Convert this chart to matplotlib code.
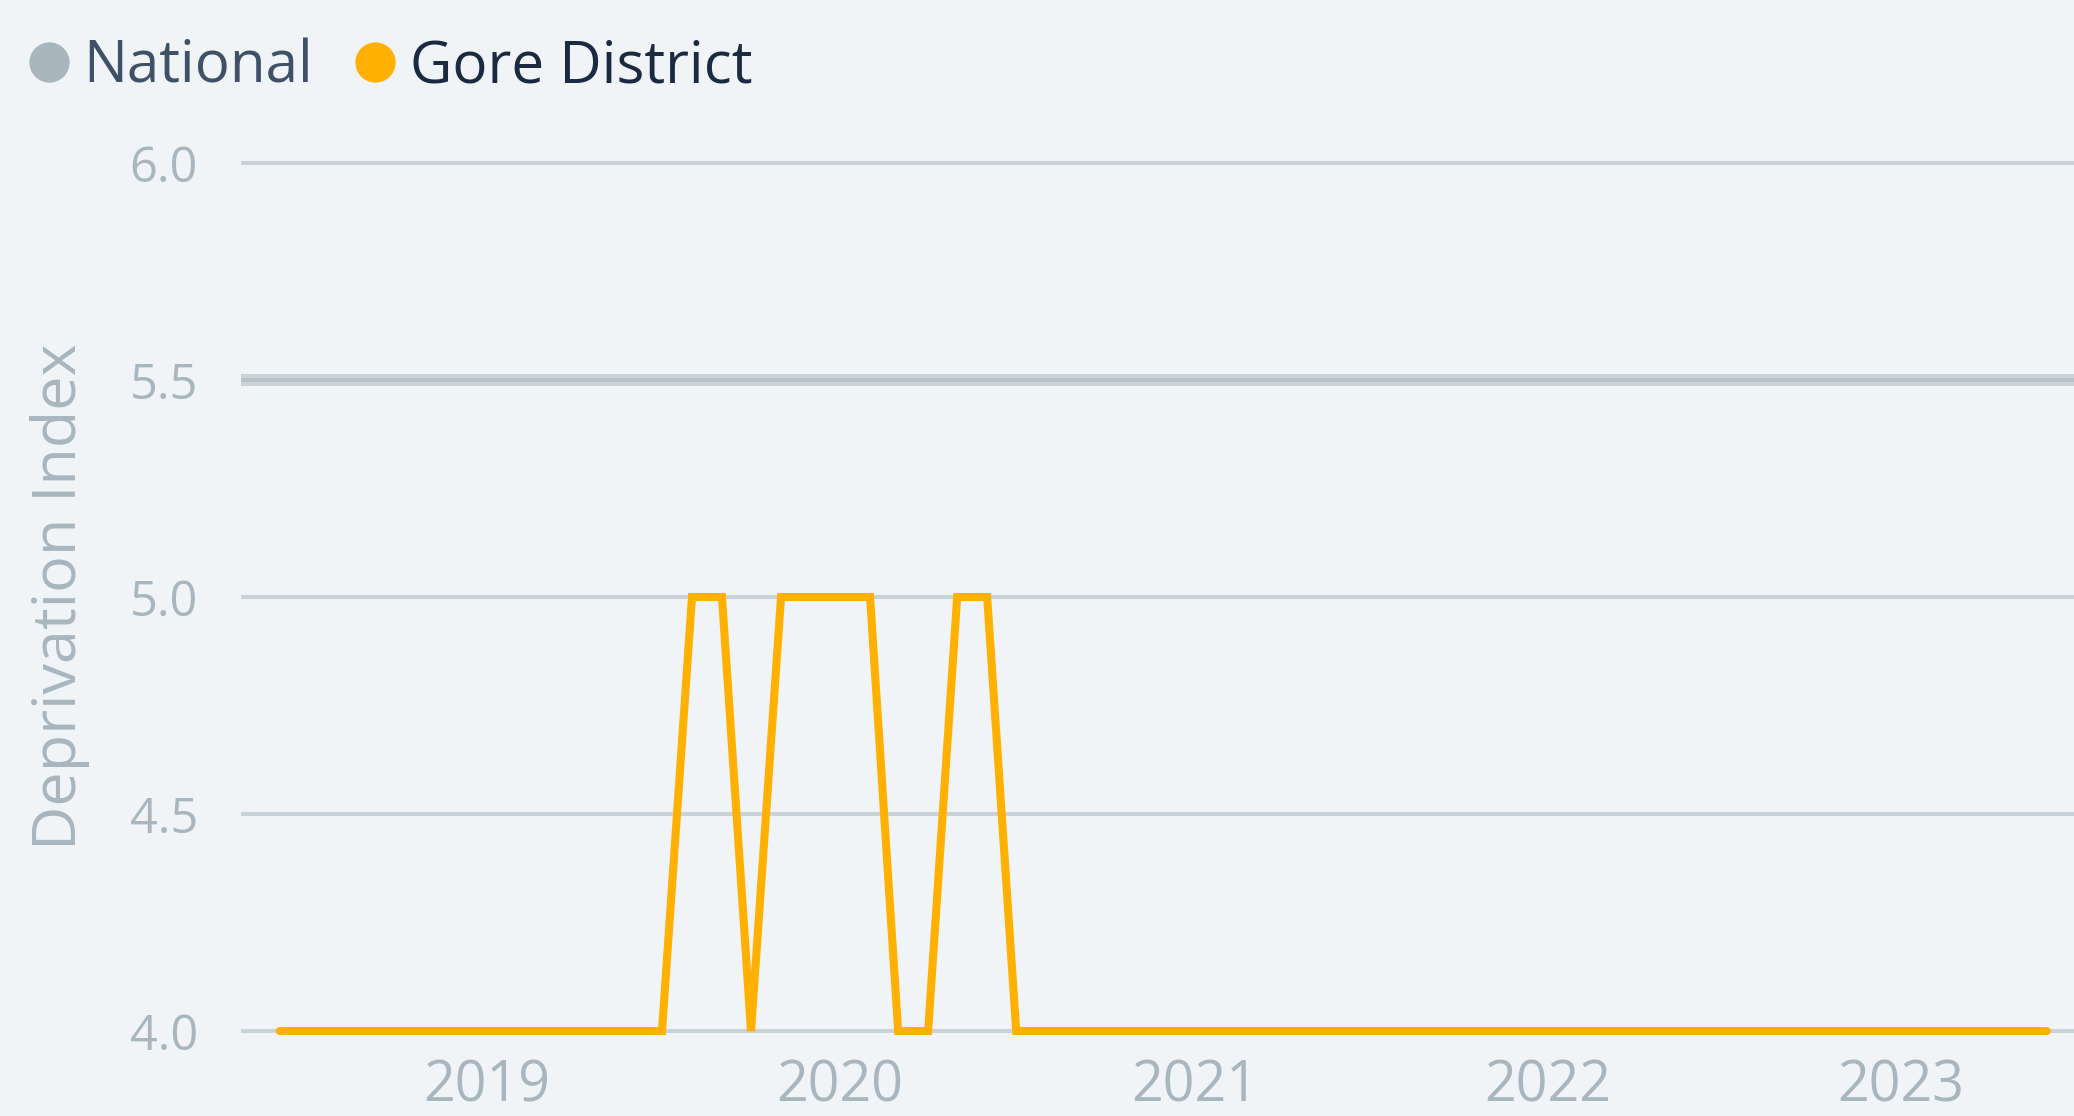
import matplotlib
matplotlib.use("Agg")
import matplotlib.pyplot as plt
import matplotlib.dates as mdates
from matplotlib.lines import Line2D
import pandas as pd

# monthly series, Jun 2018 .. Jun 2023
START_MONTH = "2018-06-01"
GORE = [4, 4, 4, 4, 4, 4, 4, 4, 4, 4, 4, 4, 4, 4,
        5, 5, 4, 5, 5, 5, 5, 4, 4, 5, 5,
        4, 4, 4, 4, 4, 4, 4, 4, 4, 4, 4, 4, 4, 4, 4, 4, 4, 4, 4, 4,
        4, 4, 4, 4, 4, 4, 4, 4, 4, 4, 4, 4, 4, 4, 4, 4]
NATIONAL = 5.5
SERIES_NAMES = ["National", "Gore District"]
Y_TICKS = [4.0, 4.5, 5.0, 5.5, 6.0]
Y_LABEL = "Deprivation Index"

BG = "#f0f4f7"
GRID = "#c9d2d7"
MUTED = "#a9b6bd"
ORANGE = "#ffb000"

plt.rcParams["font.family"] = ["Open Sans", "DejaVu Sans"]

dates = pd.date_range(START_MONTH, periods=len(GORE), freq="MS")

fig = plt.figure(figsize=(20.74, 11.16), dpi=100, facecolor=BG)
ax = fig.add_axes([0.1162, 0.0742, 0.8838, 0.7817])
ax.set_facecolor(BG)

# national reference level spans the whole plot width
ax.axhline(NATIONAL, color=MUTED, alpha=0.52, linewidth=8.6, zorder=3)
ax.plot(dates, GORE, color=ORANGE, linewidth=5.8, zorder=4, clip_on=False,
        solid_capstyle="round", solid_joinstyle="miter")

ax.set_ylim(3.995, 6.005)
ax.set_xlim(dates[0] - pd.Timedelta(days=40), dates[-1] + pd.Timedelta(days=28))
ax.set_yticks(Y_TICKS)
ax.set_yticklabels([f"{v:.1f}" for v in Y_TICKS])
ax.xaxis.set_major_locator(mdates.YearLocator())
ax.xaxis.set_major_formatter(mdates.DateFormatter("%Y"))

ax.grid(axis="y", color=GRID, linewidth=2.9, zorder=1)
ax.grid(axis="x", visible=False)
ax.set_axisbelow(True)
for spine in ax.spines.values():
    spine.set_visible(False)

ax.tick_params(axis="y", length=0, pad=31, labelsize=35, labelcolor=MUTED)
ax.tick_params(axis="x", length=0, pad=18, labelsize=40, labelcolor=MUTED)

ax.set_ylabel(Y_LABEL, fontsize=44, color=MUTED)
ax.yaxis.set_label_coords(-0.0824, 0.5)

handles = [
    Line2D([], [], marker="o", linestyle="none", markersize=29,
           markerfacecolor=MUTED, markeredgecolor="none"),
    Line2D([], [], marker="o", linestyle="none", markersize=29,
           markerfacecolor=ORANGE, markeredgecolor="none"),
]
leg = fig.legend(handles, SERIES_NAMES, loc="center left",
                 bbox_to_anchor=(0.015, 0.94), ncol=2, frameon=False,
                 fontsize=42, handlelength=0.6, handletextpad=0.3,
                 columnspacing=0.75, borderpad=0, borderaxespad=0)
leg.get_texts()[0].set_color("#3e5166")
leg.get_texts()[1].set_color("#1b2a41")

fig.savefig("out.png", dpi=100, facecolor=BG)
